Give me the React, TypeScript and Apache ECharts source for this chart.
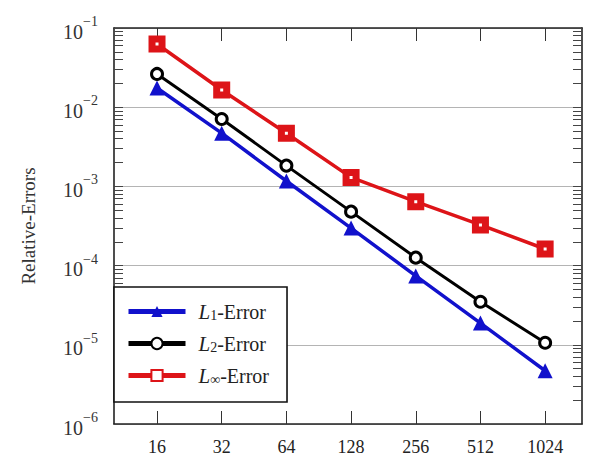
import React, { useEffect, useRef } from "react";
import * as echarts from "echarts";

const sizes = [16, 32, 64, 128, 256, 512, 1024];
const l1Error = [0.0175, 0.0047, 0.00117, 2.98e-4, 7.4e-5, 1.88e-5, 4.7e-6];
const l2Error = [0.0263, 0.0071, 0.00183, 4.8e-4, 1.26e-4, 3.5e-5, 1.06e-5];
const lInfError = [0.0628, 0.0165, 0.00468, 1.3e-3, 6.41e-4, 3.26e-4, 1.62e-4];
const seriesNames = ["L1-Error", "L2-Error", "Linf-Error"];
const decadeExps = [-6, -5, -4, -3, -2, -1];

const FONT = "'Liberation Serif', 'DejaVu Serif', serif";

export default function App() {
  const ref = useRef<HTMLDivElement>(null);
  useEffect(() => {
    if (!ref.current) return;
    const chart = echarts.init(ref.current, null, { renderer: "svg" });
    const yMinor: number[] = [];
    for (let i = 0; i < decadeExps.length - 1; i++) {
      for (let k = 1; k <= 9; k++) yMinor.push(k * Math.pow(10, decadeExps[i]));
    }
    yMinor.push(Math.pow(10, decadeExps[decadeExps.length - 1]));
    const xMin = Math.pow(2, 3.335);
    const xMax = Math.pow(2, 10.57);
    const axisLineStyle = { color: "#222", width: 1.6 };
    const mkX = (pos: "bottom" | "top", labels: boolean) => ({
      type: "log",
      logBase: 2,
      min: xMin,
      max: xMax,
      position: pos,
      axisLine: { show: true, onZero: false, lineStyle: axisLineStyle },
      axisTick: {
        show: true,
        inside: true,
        length: 13,
        customValues: sizes,
        lineStyle: { color: "#333", width: 1 },
      },
      axisLabel: {
        show: labels,
        customValues: sizes,
        margin: 14,
        fontFamily: FONT,
        fontSize: 18,
        color: "#222",
        formatter: (v: number) => String(Math.round(v)),
      },
      splitLine: { show: false },
    });
    const mkYTicks = (pos: "left" | "right", line: boolean) => ({
      type: "log",
      min: 1e-6,
      max: 1e-1,
      position: pos,
      axisLine: { show: line, lineStyle: axisLineStyle },
      axisTick: {
        show: true,
        inside: true,
        length: 9,
        customValues: yMinor,
        lineStyle: { color: "#444", width: 1 },
      },
      axisLabel: { show: false },
      splitLine: { show: false },
    });
    chart.setOption({
      animation: false,
      backgroundColor: "#fff",
      grid: { left: 114, top: 28, right: 19, bottom: 52, containLabel: false },
      legend: {
        orient: "vertical",
        left: 114,
        top: 287,
        padding: [14, 18, 16, 12],
        itemGap: 11,
        itemWidth: 57,
        itemHeight: 14,
        borderColor: "#111",
        borderWidth: 1.6,
        backgroundColor: "#fff",
        lineStyle: { width: 5 },
        data: seriesNames,
        formatter: (name: string) => {
          const sub = name === "L1-Error" ? "1" : name === "L2-Error" ? "2" : "∞";
          return `{i|L}{s|${sub}}{t|-Error}`;
        },
        textStyle: {
          fontFamily: FONT,
          fontSize: 20,
          color: "#222",
          rich: {
            i: { fontFamily: FONT, fontSize: 21, fontStyle: "italic", color: "#222", padding: [0, 0, 0, 8] },
            s: { fontFamily: FONT, fontSize: 14, color: "#222", verticalAlign: "bottom" },
            t: { fontFamily: FONT, fontSize: 20, color: "#222" },
          },
        },
      },
      xAxis: [mkX("bottom", true), mkX("top", false)],
      yAxis: [
        {
          type: "log",
          min: 1e-6,
          max: 1e-1,
          position: "left",
          name: "Relative-Errors",
          nameLocation: "middle",
          nameGap: 76,
          nameTextStyle: { fontFamily: FONT, fontSize: 19, color: "#333" },
          axisLine: { show: true, lineStyle: axisLineStyle },
          axisTick: { show: false },
          axisLabel: {
            margin: 16,
            formatter: (v: number) => {
              const e = Math.round(Math.log10(v));
              return `{b|10}{e|−${Math.abs(e)}}`;
            },
            rich: {
              b: { fontFamily: FONT, fontSize: 20, color: "#333", padding: [7, 0, 0, 0] },
              e: { fontFamily: FONT, fontSize: 14, color: "#333", verticalAlign: "top" },
            },
          },
          splitLine: { show: true, lineStyle: { color: "#b4b4b4", width: 1 } },
        },
        mkYTicks("right", true),
        mkYTicks("left", false),
      ],
      series: [
        {
          name: seriesNames[0],
          type: "line",
          data: sizes.map((s, i) => [s, l1Error[i]]),
          symbol: "triangle",
          symbolSize: 15,
          lineStyle: { color: "#1111cc", width: 3.5 },
          itemStyle: { color: "#1111cc" },
          z: 3,
        },
        {
          name: seriesNames[1],
          type: "line",
          data: sizes.map((s, i) => [s, l2Error[i]]),
          symbol: "circle",
          symbolSize: 11,
          lineStyle: { color: "#000", width: 3 },
          itemStyle: { color: "#fff", borderColor: "#000", borderWidth: 3 },
          z: 4,
        },
        {
          name: seriesNames[2],
          type: "line",
          data: sizes.map((s, i) => [s, lInfError[i]]),
          symbol: "rect",
          symbolSize: 10,
          lineStyle: { color: "#dd1418", width: 3.5 },
          itemStyle: { color: "#fff", borderColor: "#dd1418", borderWidth: 7 },
          z: 5,
        },
      ],
    });
    return () => chart.dispose();
  }, []);
  return (
    <div
      ref={ref}
      style={{ position: "absolute", left: 0, top: 0, width: 601, height: 476 }}
    />
  );
}
